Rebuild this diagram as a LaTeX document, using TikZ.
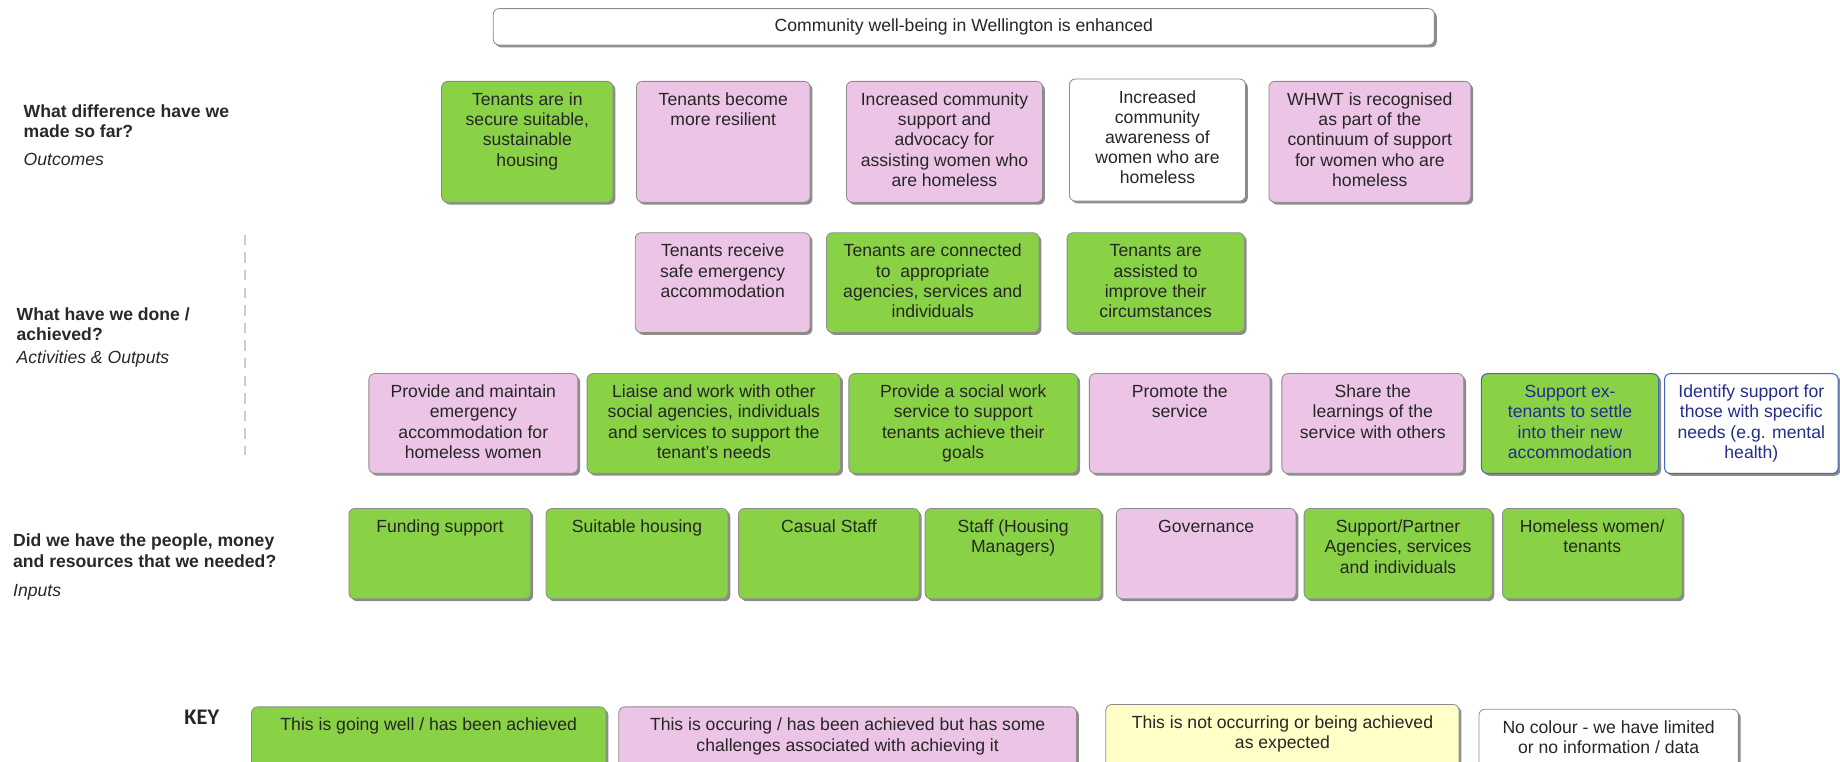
\documentclass[tikz,border=0pt]{standalone}
\usepackage{fontspec}
\setmainfont{Liberation Sans}
\newfontfamily\keyfont{Carlito}
\usetikzlibrary{shadows}
\definecolor{gg}{RGB}{137,210,70}
\definecolor{pk}{RGB}{236,197,230}
\definecolor{yl}{RGB}{255,255,200}
\definecolor{bd}{RGB}{140,140,140}
\definecolor{tx}{RGB}{38,38,38}
\definecolor{bb}{RGB}{70,105,190}
\definecolor{bt}{RGB}{35,45,140}
\definecolor{lbl}{RGB}{40,40,40}
\newcommand\card[7]{\node[card,#6,anchor=north west,minimum width=#4pt] (#1) at (#2,#3) {\parbox[t][\dimexpr#5pt-17pt\relax][t]{\dimexpr#4pt-6pt\relax}{\centering\strut#7}};}
\begin{document}
\begin{tikzpicture}[x=1pt,y=-1pt,font=\fontsize{15}{17.2}\selectfont,
  card/.style={rectangle,rounded corners=5pt,draw=bd,line width=0.7pt,text=tx,inner xsep=3pt,inner ysep=8.5pt,
    drop shadow={shadow xshift=2pt,shadow yshift=-2pt,fill=black!45,opacity=1}},
  blue card/.style={draw=bb,text=bt,line width=0.9pt},
  lab/.style={align=left,inner sep=0pt,text=lbl,font=\fontsize{15}{17.5}\selectfont}]
\useasboundingbox (0,0) rectangle (1568,649);

% top
\node[card,fill=white,anchor=north west,minimum width=802pt,minimum height=31pt,inner ysep=0pt] (top) at (420,7) {Community well-being in Wellington is enhanced};

% left labels
\node[lab,anchor=north west] (q1) at (20,89) {\textbf{What difference have we}\\\textbf{made so far?}\\[6pt]\textit{Outcomes}};
\node[lab,anchor=north west] (q2) at (14,262) {\textbf{What have we done /}\\\textbf{achieved?}\\[2pt]\textit{Activities \& Outputs}};
\node[lab,anchor=north west] (q3) at (11,455) {\textbf{Did we have the people, money}\\\textbf{and resources that we needed?}\\[7pt]\textit{Inputs}};
\coordinate (d1) at (209,200);
\coordinate (d2) at (209,388);
\draw[black!20,line width=1.5pt,dash pattern=on 9pt off 6pt] (d1) -- (d2);

% outcomes
\card{o1}{376}{69}{146}{103}{fill=gg}{Tenants are in\\secure suitable,\\sustainable\\housing}
\card{o2}{542}{69}{148}{103}{fill=pk}{Tenants become\\more resilient}
\card{o3}{721}{69}{167}{103}{fill=pk}{Increased community\\support and\\advocacy for\\assisting women who\\are homeless}
\card{o4}{911}{67}{150}{104}{fill=white}{Increased\\community\\awareness of\\women who are\\homeless}
\card{o5}{1081}{69}{172}{103}{fill=pk}{WHWT is recognised\\as part of the\\continuum of support\\for women who are\\homeless}

% activities row 1
\card{a1}{541}{198}{149}{85}{fill=pk}{Tenants receive\\safe emergency\\accommodation}
\card{a2}{704}{198}{181}{85}{fill=gg}{Tenants are connected\\to~~appropriate\\agencies, services and\\individuals}
\card{a3}{909}{198}{151}{85}{fill=gg}{Tenants are\\assisted to\\improve their\\circumstances}

% activities row 2
\card{b1}{314}{318}{178}{85}{fill=pk}{Provide and maintain\\emergency\\accommodation for\\homeless women}
\card{b2}{500}{318}{216}{85}{fill=gg}{Liaise and work with other\\social agencies, individuals\\and services to support the\\tenant's needs}
\card{b3}{723}{318}{195}{85}{fill=gg}{Provide a social work\\service to support\\tenants achieve their\\goals}
\card{b4}{928}{318}{154}{85}{fill=pk}{Promote the\\service}
\card{b5}{1092}{318}{155}{85}{fill=pk}{Share the\\learnings of the\\service with others}
\card{b6}{1262}{318}{151}{85}{fill=gg,blue card}{Support ex-\\tenants to settle\\into their new\\accommodation}
\card{b7}{1418}{318}{148}{85}{fill=white,blue card}{Identify support for\\those with specific\\needs (e.g. mental\\health)}

% inputs
\card{i1}{297}{433}{155}{77}{fill=gg}{Funding support}
\card{i2}{465}{433}{155}{77}{fill=gg}{Suitable housing}
\card{i3}{629}{433}{154}{77}{fill=gg}{Casual Staff}
\card{i4}{788}{433}{150}{77}{fill=gg}{Staff (Housing\\Managers)}
\card{i5}{951}{433}{153}{77}{fill=pk}{Governance}
\card{i6}{1111}{433}{160}{77}{fill=gg}{Support/Partner\\Agencies, services\\and individuals}
\card{i7}{1280}{433}{153}{77}{fill=gg}{Homeless women/\\tenants}

% key
\node[anchor=base west,text=tx,inner sep=0pt,font=\keyfont\bfseries\fontsize{19}{20}\selectfont] (key) at (157,617) {KEY};
\card{k1}{214}{602}{302}{62}{fill=gg}{This is going well / has been achieved}
\card{k2}{527}{602}{390}{62}{fill=pk}{This is occuring / has been achieved but has some\\challenges associated with achieving it}
\card{k3}{942}{600}{301}{62}{fill=yl}{This is not occurring or being achieved\\as expected}
\card{k4}{1260}{604}{221}{62}{fill=white}{No colour - we have limited\\or no information / data}
\end{tikzpicture}
\end{document}
